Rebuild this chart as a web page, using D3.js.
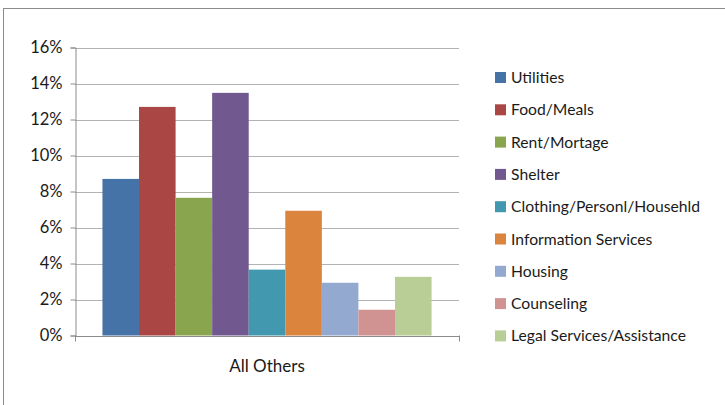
<!DOCTYPE html>
<html>
<head>
<meta charset="utf-8">
<script src="https://cdn.jsdelivr.net/npm/d3@7"></script>
<style>
  body { margin: 0; background: #fff; }
  svg { display: block; font-family: Lato, "Open Sans", sans-serif; }
</style>
</head>
<body>
<svg id="chart" width="725" height="405"></svg>
<script>
// data
const groups = ["All Others"];
const categories = ["Utilities", "Food/Meals", "Rent/Mortage", "Shelter",
  "Clothing/Personl/Househld", "Information Services", "Housing",
  "Counseling", "Legal Services/Assistance"];
const values = [8.7, 12.7, 7.65, 13.48, 3.66, 6.93, 2.93, 1.43, 3.26];
const colors = ["#4572A7", "#AA4643", "#89A54E", "#71588F", "#4198AF",
  "#DB843D", "#93A9CF", "#D19392", "#B9CD96"];
const yTicks = [0, 2, 4, 6, 8, 10, 12, 14, 16];

const svg = d3.select("#chart");

// outer chart frame (only top and left visible)
svg.append("rect")
  .attr("x", 3.5).attr("y", 8.5)
  .attr("width", 800).attr("height", 500)
  .attr("fill", "none")
  .attr("stroke", "#8c8c8c")
  .attr("stroke-width", 1);

const plot = { left: 75, right: 459, top: 47.5, bottom: 335.5 };

const y = d3.scaleLinear().domain([0, 16]).range([plot.bottom, plot.top]);
const x0 = d3.scaleBand().domain(groups).range([plot.left, plot.right])
  .paddingInner(0.077).paddingOuter(0.077);
const x1 = d3.scaleBand().domain(categories).range([0, x0.bandwidth()]);

// gridlines
svg.append("g")
  .selectAll("line")
  .data(yTicks.filter(d => d > 0))
  .join("line")
  .attr("x1", plot.left).attr("x2", plot.right)
  .attr("y1", d => Math.round(y(d)) + 0.5).attr("y2", d => Math.round(y(d)) + 0.5)
  .attr("stroke", "#b3b3b3")
  .attr("stroke-width", 1);

// bars
svg.append("g")
  .selectAll("rect")
  .data(categories)
  .join("rect")
  .attr("x", (d, i) => x0("All Others") + x1(d))
  .attr("y", (d, i) => y(values[i]))
  .attr("width", x1.bandwidth())
  .attr("height", (d, i) => y(0) - y(values[i]))
  .attr("fill", (d, i) => colors[i]);

// y axis
const yAxis = svg.append("g")
  .attr("transform", `translate(${plot.left + 0.5},0)`)
  .call(d3.axisLeft(y).tickValues(yTicks).tickFormat(d => d + "%").tickSize(5).tickPadding(8));
yAxis.select(".domain").attr("stroke", "#8c8c8c");
yAxis.selectAll(".tick line").attr("stroke", "#8c8c8c");
yAxis.selectAll(".tick text")
  .attr("font-size", 16.5).attr("fill", "#1a1a1a")
  .attr("font-family", "Lato, 'Open Sans', sans-serif");

// x axis
const xAxis = svg.append("g")
  .attr("transform", `translate(0,${plot.bottom + 0.5})`)
  .call(d3.axisBottom(x0).tickSize(0));
xAxis.select(".domain").attr("stroke", "#8c8c8c");
xAxis.selectAll(".tick text")
  .attr("y", 36).attr("dy", 0)
  .attr("font-size", 17).attr("fill", "#1a1a1a")
  .attr("font-family", "Lato, 'Open Sans', sans-serif");
// category boundary ticks
svg.append("g")
  .selectAll("line")
  .data([plot.left, plot.right])
  .join("line")
  .attr("x1", d => d + 0.5).attr("x2", d => d + 0.5)
  .attr("y1", plot.bottom).attr("y2", plot.bottom + 6)
  .attr("stroke", "#8c8c8c");

// legend
const legend = svg.append("g").attr("transform", "translate(495,77)");
const row = 32.3;
const items = legend.selectAll("g")
  .data(categories)
  .join("g")
  .attr("transform", (d, i) => `translate(0,${i * row})`);
items.append("rect")
  .attr("x", 0).attr("y", -5)
  .attr("width", 11).attr("height", 11)
  .attr("fill", (d, i) => colors[i]);
items.append("text")
  .attr("x", 16).attr("y", 6)
  .attr("font-size", 15.7)
  .attr("fill", "#1a1a1a")
  .text(d => d);
</script>
</body>
</html>
